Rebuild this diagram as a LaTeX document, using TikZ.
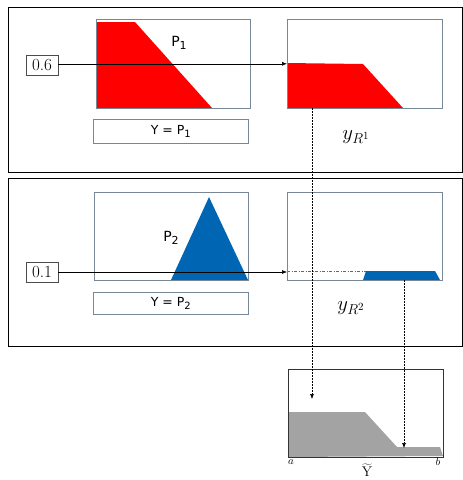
\documentclass[tikz,border=0pt]{standalone}
\usepackage{fontspec}
\newfontfamily\verfont{DejaVu Sans}
\usetikzlibrary{arrows.meta}
\definecolor{fred}{RGB}{255,0,0}
\definecolor{fblue}{RGB}{0,102,179}
\definecolor{fgrey}{RGB}{163,163,163}
\definecolor{boxline}{RGB}{120,135,150}
\begin{document}
\begin{tikzpicture}[x=1pt,y=-1pt,
  panel/.style={draw=black,line width=1.3pt,anchor=north west,inner sep=0,minimum width=454pt},
  plotbox/.style={draw=boxline,line width=0.6pt,anchor=north west,inner sep=0,minimum width=155pt},
  outbox/.style={draw=black!80,line width=0.7pt,anchor=north west,inner sep=0,minimum width=155pt,minimum height=88pt},
  labelbox/.style={draw=boxline,line width=0.6pt,anchor=north west,inner sep=0,minimum width=155pt,font=\verfont\fontsize{12.5}{15}\selectfont},
  valbox/.style={draw=black!70,line width=0.6pt,inner sep=0,minimum width=32pt,minimum height=20pt,font=\fontsize{17}{19}\selectfont},
  plabel/.style={font=\verfont\fontsize{14}{17}\selectfont},
  arr/.style={-{Latex[length=5pt,width=4pt]},line width=0.6pt},
  dasharr/.style={-{Latex[length=5pt,width=4pt]},line width=0.6pt,dash pattern=on 2pt off 1pt}
]
\useasboundingbox (0,0) rectangle (463,480);
% panels
\node[panel,minimum height=165pt] (top) at (8,7) {};
\node[panel,minimum height=168pt] (mid) at (8,178) {};
% fills
\fill[fred] (96,22) -- (135,22) -- (212,108) -- (96,108) -- cycle;
\draw[fred,line width=0.8pt] (212,108) -- (250,108);
\fill[fred] (287,63) -- (363,64) -- (403,108) -- (287,108) -- cycle;
\draw[fred,line width=0.8pt] (403,108) -- (442,108);
\fill[fblue] (209,197) -- (248,280) -- (171,280) -- cycle;
\draw[fblue,line width=1pt] (94,280) -- (171,280);
\fill[fblue] (366,271) -- (435,271) -- (440,280) -- (363,280) -- cycle;
\draw[fblue,line width=1pt] (287,280) -- (363,280);
\draw[black!60,line width=0.5pt,dash pattern=on 3pt off 1.5pt on 1pt off 1.5pt] (287,271) -- (366,271);
\fill[fgrey] (288,412) -- (365,412) -- (397,447) -- (440,447) -- (443,456) -- (288,457) -- cycle;
% boxes
\node[plotbox,minimum height=89pt,minimum width=154pt] (p1) at (96,19) {};
\node[plotbox,minimum height=89pt] (r1) at (287,19) {};
\node[plotbox,minimum height=88pt,minimum width=154pt] (p2) at (94,192) {};
\node[plotbox,minimum height=88pt] (r2) at (287,192) {};
\node[outbox] (out) at (288,369) {};
\node[labelbox,minimum height=24pt] (l1) at (93,119) {Y = P\raisebox{-0.35ex}{\fontsize{10}{10}\selectfont 1}};
\node[labelbox,minimum height=22pt] (l2) at (93,292) {Y = P\raisebox{-0.35ex}{\fontsize{10}{10}\selectfont 2}};
% labels
\node[plabel] (pl1) at (179,43) {P\raisebox{-0.35ex}{\fontsize{11}{11}\selectfont 1}};
\node[plabel] (pl2) at (171,238) {P\raisebox{-0.35ex}{\fontsize{11}{11}\selectfont 2}};
\node[font=\fontsize{21}{23}\selectfont] (y1) at (356,137) {$y_{R^{1}}$};
\node[font=\fontsize{21}{23}\selectfont] (y2) at (351,308) {$y_{R^{2}}$};
\node[font=\fontsize{11}{12}\selectfont] (la) at (291,462) {$a$};
\node[font=\fontsize{11}{12}\selectfont] (lb) at (438,462) {$b$};
\node[font=\fontsize{14}{16}\selectfont,inner sep=0.5pt] (yt) at (367,470) {$\widetilde{\mathrm{Y}}$};
% values and arrows
\node[valbox] (v1) at (42,65) {0.6};
\node[valbox] (v2) at (42,272) {0.1};
\draw[arr] (v1.east |- r1.west) -- (r1.west);
\draw[arr] (v2.east) -- (v2.east -| r2.west);
% dashed connectors
\coordinate (s1) at (312,108);
\coordinate (e1) at (312,399);
\coordinate (s2) at (404,280);
\coordinate (e2) at (404,448);
\draw[dasharr] (s1) -- (e1);
\draw[dasharr] (s2) -- (e2);
\end{tikzpicture}
\end{document}
